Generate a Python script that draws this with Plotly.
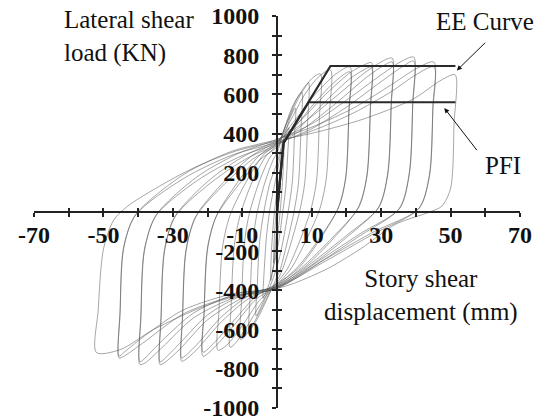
import plotly.graph_objects as go

# Cyclic test: story shear displacement (mm) vs lateral shear load (kN), one closed loop per cycle
c01_disp = [0, 0.6, 1.2, 1.0, 0.4, -0.3, -1.0, -0.8, -0.2, 0.3]
c01_load = [0, 150, 280, 170, 20, -130, -260, -140, 10, 110]

c02_disp = [0.3, 1.2, 2.0, 1.8, 1.1, 0.2, -0.9, -1.8, -1.6, -0.9, -0.1, 0.3]
c02_load = [110, 260, 360, 220, 40, -120, -260, -350, -200, -30, 100, 150]

c03_disp = [0, 1.5, 3.0, 3.4, 3.1, 2.5, 1.5, 0.5, -1.0, -2.5, -3.7, -4.0, -3.7, -3.0, -2.0, -0.8, 0]
c03_load = [200, 330, 415, 430, 300, 120, -20, -150, -280, -380, -430, -440, -300, -120, 20, 130, 200]

c04_disp = [0, 2, 4, 5.3, 5.0, 4.4, 3.2, 1.5, 0, -2, -4.5, -6.0, -5.7, -5.0, -3.8, -2, 0]
c04_load = [250, 380, 490, 530, 380, 150, 0, -170, -280, -380, -480, -530, -380, -150, 0, 150, 250]

c05_disp = [0, 2, 4.5, 6.5, 7.2, 6.9, 6.2, 5.0, 3, 0.8, 0, -2.5, -5.5, -7.5, -8.0, -7.7, -7.0, -5.8, -3.5, -1, 0]
c05_load = [300, 420, 540, 600, 610, 420, 150, 10, -150, -300, -330, -430, -540, -595, -600, -420, -160, -10, 150, 270, 300]

c06_disp = [0, 2.5, 5.5, 8.2, 9.1, 8.8, 8.0, 6.6, 4, 1.2, 0, -3, -6.5, -9.5, -10.5, -10.2, -9.4, -8, -5, -2, 0]
c06_load = [320, 440, 570, 645, 660, 450, 150, 10, -160, -310, -350, -440, -560, -640, -650, -450, -160, -10, 160, 280, 320]

c07_disp = [0, 3, 6.5, 10, 12.5, 12.2, 11.4, 9.8, 6.5, 3, 0, -4, -8.5, -12, -13.5, -13.2, -12.3, -10.6, -7, -3, 0]
c07_load = [340, 460, 590, 680, 705, 480, 160, 15, -150, -290, -360, -450, -580, -670, -690, -480, -170, -15, 160, 290, 340]

c08_disp = [0, 4, 8, 12, 15.4, 15.1, 14.2, 12.4, 8.5, 4, 0, -5, -10, -14.5, -17, -16.7, -15.7, -13.6, -9, -4, 0]
c08_load = [350, 470, 600, 690, 725, 500, 170, 20, -140, -290, -370, -450, -580, -680, -705, -500, -180, -20, 150, 290, 350]

c09_disp = [0, 5, 11, 17, 21, 20.7, 19.8, 17.8, 12, 6, 0, -6, -12, -18, -21.3, -21.0, -20, -17.6, -11, -5, 0]
c09_load = [355, 465, 600, 705, 740, 520, 180, 25, -140, -280, -375, -445, -570, -690, -736, -520, -190, -25, 160, 290, 355]

c09b_disp = [0, 5, 11, 17, 21, 20.7, 19.8, 17.6, 12, 6, 0, -6, -12, -18, -21.3, -21.0, -20, -17.4, -11, -5, 0]
c09b_load = [330, 430, 560, 670, 715, 500, 170, 20, -150, -290, -365, -430, -545, -665, -715, -500, -180, -20, 140, 265, 330]

c10_disp = [0, 7, 14, 21, 25, 27.2, 26.9, 25.9, 23.6, 16, 8, 0, -8, -16, -23, -26.5, -27.5, -27.2, -26.2, -23.5, -15, -7, 0]
c10_load = [360, 470, 600, 710, 750, 762, 540, 190, 25, -130, -270, -380, -440, -560, -700, -755, -761, -540, -200, -25, 160, 290, 360]

c10b_disp = [0, 7, 14, 21, 25, 27.2, 26.9, 25.9, 23.3, 16, 8, 0, -8, -16, -23, -26.5, -27.5, -27.2, -26.2, -23.2, -15, -7, 0]
c10b_load = [340, 440, 565, 680, 725, 740, 520, 180, 20, -140, -280, -372, -425, -535, -675, -735, -745, -520, -190, -20, 145, 270, 340]

c11_disp = [0, 8, 17, 26, 31, 33.2, 32.9, 31.9, 29.4, 20, 10, 0, -10, -20, -28, -32.5, -33.7, -33.4, -32.4, -29.5, -19, -9, 0]
c11_load = [365, 460, 590, 720, 775, 785, 560, 200, 25, -120, -260, -385, -440, -550, -700, -770, -778, -550, -200, -25, 170, 290, 365]

c11b_disp = [0, 8, 17, 26, 31, 33.2, 32.9, 31.9, 29.1, 20, 10, 0, -10, -20, -28, -32.5, -33.7, -33.4, -32.4, -29.2, -19, -9, 0]
c11b_load = [345, 430, 555, 690, 750, 765, 540, 190, 20, -130, -270, -378, -425, -525, -670, -750, -765, -530, -190, -20, 150, 270, 345]

c12_disp = [0, 10, 20, 30, 36, 39.4, 39.1, 38.1, 35.4, 24, 12, 0, -12, -24, -33, -38, -39.5, -39.2, -38.2, -35, -23, -11, 0]
c12_load = [370, 450, 570, 700, 770, 790, 560, 200, 20, -110, -250, -388, -435, -540, -690, -770, -778, -540, -200, -20, 180, 300, 370]

c12b_disp = [0, 10, 20, 30, 36, 39.4, 39.1, 38.1, 35.1, 24, 12, 0, -12, -24, -33, -38, -39.5, -39.2, -38.2, -34.7, -23, -11, 0]
c12b_load = [350, 425, 535, 665, 740, 770, 540, 190, 15, -120, -260, -382, -420, -515, -655, -745, -765, -520, -190, -15, 160, 280, 350]

c13_disp = [0, 11, 22, 33, 40, 45.2, 44.9, 43.9, 41, 28, 14, 0, -13, -27, -38, -44, -45.5, -45.2, -44.2, -41, -27, -13, 0]
c13_load = [370, 440, 530, 650, 730, 765, 540, 190, 20, -100, -240, -390, -430, -520, -660, -735, -745, -520, -190, -20, 190, 310, 370]

c13b_disp = [0, 11, 22, 33, 40, 45.2, 44.9, 43.9, 40.7, 28, 14, 0, -13, -27, -38, -44, -45.5, -45.2, -44.2, -40.7, -27, -13, 0]
c13b_load = [355, 420, 505, 615, 700, 740, 520, 180, 15, -110, -250, -385, -418, -500, -630, -715, -735, -500, -180, -15, 170, 290, 355]

c14_disp = [0, 12, 24.5, 39, 47.6, 51.3, 51.0, 50.0, 47.5, 44, 34, 24.5, 15, 5.3, 0, -10, -21, -35.6, -45, -52, -51.5, -50, -47, -43, -35, -24, -12, 0]
c14_load = [362, 410, 472, 574, 676, 700, 450, 120, 30, 0, -64, -183, -285, -361, -390, -420, -481, -600, -701, -717, -500, -190, -40, 30, 120, 225, 310, 362]

loops = [
    (c01_disp, c01_load), (c02_disp, c02_load), (c03_disp, c03_load),
    (c04_disp, c04_load), (c05_disp, c05_load), (c06_disp, c06_load),
    (c07_disp, c07_load), (c08_disp, c08_load),
    (c09_disp, c09_load), (c09b_disp, c09b_load),
    (c10_disp, c10_load), (c10b_disp, c10b_load),
    (c11_disp, c11_load), (c11b_disp, c11b_load),
    (c12_disp, c12_load), (c12b_disp, c12b_load),
    (c13_disp, c13_load), (c13b_disp, c13b_load),
    (c14_disp, c14_load),
]

# Idealised bilinear envelopes
ee_disp = [0, 1.9, 15.4, 51.4]
ee_load = [0, 353, 745, 745]
pfi_disp = [0, 1.9, 9.1, 51.4]
pfi_load = [0, 353, 560, 560]

# Axis ticks: every 10 mm / 100 kN, labels on alternate ticks
x_tickvals = [-70, -60, -50, -40, -30, -20, -10, 10, 20, 30, 40, 50, 60, 70]
x_ticktext = ["-70", "", "-50", "", "-30", "", "-10", "10", "", "30", "", "50", "", "70"]
y_tickvals = [-1000, -900, -800, -700, -600, -500, -400, -300, -200, -100,
              100, 200, 300, 400, 500, 600, 700, 800, 900, 1000]
y_ticktext = ["-1000", "", "-800", "", "-600", "", "-400", "", "-200", "",
              "", "200", "", "400", "", "600", "", "800", "", "1000"]

X_RANGE = [-70, 70]
Y_RANGE = [-1000, 1000]
AXIS_COLOR = "#222222"
SERIF = "Liberation Serif"

fig = go.Figure()

for dx, ly in loops:
    fig.add_trace(go.Scatter(
        x=dx, y=ly, mode="lines",
        line=dict(color="rgba(80,80,80,0.6)", width=0.85, shape="spline", smoothing=0.8),
        hoverinfo="skip", showlegend=False,
    ))

for dx, ly in [(ee_disp, ee_load), (pfi_disp, pfi_load)]:
    fig.add_trace(go.Scatter(
        x=dx, y=ly, mode="lines",
        line=dict(color="#2a2a2a", width=2.2),
        hoverinfo="skip", showlegend=False,
    ))

# Empty trace on the overlay axes so their ticks are drawn
fig.add_trace(go.Scatter(x=[], y=[], xaxis="x2", yaxis="y2", showlegend=False, hoverinfo="skip"))

tick_font = dict(family=SERIF, size=24, color="#111111", weight="bold")

common_x = dict(range=X_RANGE, showgrid=False, zeroline=False, anchor="free", position=0.5,
                automargin=False, tickmode="array", tickvals=x_tickvals,
                ticklen=4, tickwidth=1.5, tickcolor=AXIS_COLOR)
common_y = dict(range=Y_RANGE, showgrid=False, zeroline=False, anchor="free", position=0.5,
                automargin=False, tickmode="array", tickvals=y_tickvals,
                ticklen=4, tickwidth=1.5, tickcolor=AXIS_COLOR)

fig.update_layout(
    width=545, height=420,
    margin=dict(l=34, r=25, t=16, b=12),
    paper_bgcolor="white", plot_bgcolor="white",
    xaxis=dict(**common_x, side="bottom", ticks="outside", ticktext=x_ticktext,
               showline=True, linecolor=AXIS_COLOR, linewidth=1.8,
               tickfont=tick_font, ticklabelstandoff=-3, ticklabeloverflow="allow"),
    yaxis=dict(**common_y, side="left", ticks="outside", ticktext=y_ticktext,
               showline=True, linecolor=AXIS_COLOR, linewidth=1.8,
               tickfont=tick_font, ticklabelstandoff=8, ticklabeloverflow="allow"),
    xaxis2=dict(**common_x, overlaying="x", side="bottom", ticks="inside",
                showticklabels=False, showline=False),
    yaxis2=dict(**common_y, overlaying="y", side="left", ticks="inside",
                showticklabels=False, showline=False),
)

label_font = dict(family=SERIF, size=25, color="#111111")

fig.add_annotation(text="Lateral shear<br>load (KN)", xref="paper", yref="paper",
                   x=0.058, y=0.948, xanchor="left", yanchor="middle", align="left",
                   showarrow=False, font=label_font)
fig.add_annotation(text="Story shear<br>displacement (mm)", xref="paper", yref="paper",
                   x=0.797, y=0.288, xanchor="center", yanchor="middle", align="center",
                   showarrow=False, font=label_font)
fig.add_annotation(text="EE Curve", xref="paper", yref="paper", x=0.928, y=0.985,
                   xanchor="center", yanchor="middle", showarrow=False, font=label_font)
fig.add_annotation(text="PFI", xref="paper", yref="paper", x=0.964, y=0.619,
                   xanchor="center", yanchor="middle", showarrow=False, font=label_font)

# Leader arrows from the labels to the two envelopes
arrow_style = dict(showarrow=True, arrowhead=2, arrowsize=1, arrowwidth=1, arrowcolor="#111111",
                   axref="x", ayref="y", xref="x", yref="y", text="")
fig.add_annotation(x=51.8, y=722, ax=60.4, ay=871, **arrow_style)
fig.add_annotation(x=48.2, y=530, ax=57.9, ay=308, **arrow_style)

fig.write_html("out.html")
